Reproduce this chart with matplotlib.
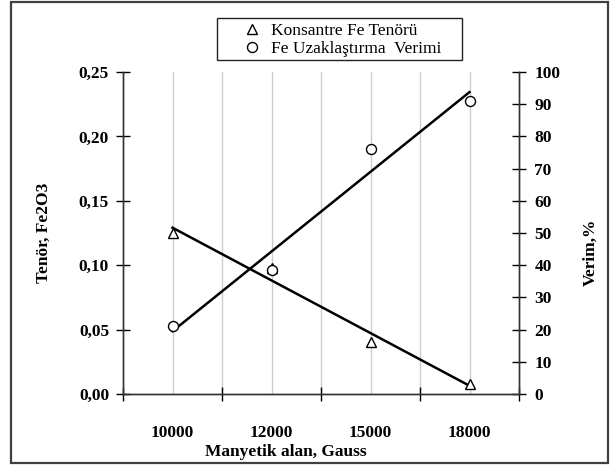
import numpy as np
import matplotlib.pyplot as plt
from matplotlib.patches import Rectangle

# data
fields = ['10000', '12000', '15000', '18000']
tenor = [0.125, 0.098, 0.040, 0.008]      # Konsantre Fe Tenörü (left axis)
verim = [21.0, 38.5, 76.0, 91.0]          # Fe Uzaklaştırma Verimi, % (right axis)
left_ticks = [0.0, 0.05, 0.10, 0.15, 0.20, 0.25]
right_ticks = list(range(0, 101, 10))

plt.rcParams['font.family'] = ['Liberation Serif', 'DejaVu Serif']
FS = 12.5

fig = plt.figure(figsize=(6.1, 4.65), dpi=100)
ax = fig.add_axes([123 / 610, 1 - 394 / 465, 396 / 610, 322 / 465])
ax2 = ax.twinx()

x = np.arange(len(fields))

# vertical gridlines every half category
for gx in np.arange(0, len(fields) - 0.99, 0.5):
    ax.axvline(gx, color='#cccccc', lw=1.0, zorder=0)

# markers
ax.plot(x, tenor, ls='none', marker='^', ms=7, mfc='white', mec='black',
        mew=1.0, zorder=4, label='Konsantre Fe Tenörü')
ax2.plot(x, verim, ls='none', marker='o', ms=7.2, mfc='white', mec='black',
         mew=1.0, zorder=4, label='Fe Uzaklaştırma  Verimi')

# linear trend lines
p1 = np.polyfit(x, tenor, 1)
ax.plot(x[[0, -1]], np.polyval(p1, x[[0, -1]]), color='black', lw=1.8, zorder=3)
p2 = np.polyfit(x, verim, 1)
ax2.plot(x[[0, -1]], np.polyval(p2, x[[0, -1]]), color='black', lw=1.8, zorder=3)

ax.set_xlim(-0.5, len(fields) - 0.5)
ax.set_ylim(0, 0.25)
ax2.set_ylim(0, 100)

# category boundaries as major ticks, labels on minor ticks
ax.set_xticks(np.arange(-0.5, len(fields), 1))
ax.set_xticklabels([])
ax.set_xticks(x, minor=True)
ax.set_xticklabels(fields, minor=True, fontsize=FS, fontweight='bold')
ax.tick_params(axis='x', which='major', direction='inout', length=10, width=1)
ax.tick_params(axis='x', which='minor', length=0, pad=22)

ax.set_yticks(left_ticks)
ax.set_yticklabels([('%.2f' % v).replace('.', ',') for v in left_ticks],
                   fontsize=FS, fontweight='bold')
ax.tick_params(axis='y', direction='inout', length=10, width=1, pad=5)

ax2.set_yticks(right_ticks)
ax2.set_yticklabels([str(v) for v in right_ticks], fontsize=FS, fontweight='bold')
ax2.tick_params(axis='y', direction='inout', length=10, width=1, pad=6)

for a in (ax, ax2):
    a.spines['top'].set_visible(False)
    for s in ('left', 'right', 'bottom'):
        a.spines[s].set_color('#333333')
        a.spines[s].set_linewidth(1.0)

ax.set_xlabel('Manyetik alan, Gauss', fontsize=FS, fontweight='bold')
ax.xaxis.set_label_coords(0.41, -0.155)
ax.set_ylabel('Tenör, Fe2O3', fontsize=FS, fontweight='bold')
ax.yaxis.set_label_coords(-0.18, 0.5)
ax2.set_ylabel('Verim,%', fontsize=FS, fontweight='bold')
ax2.yaxis.set_label_coords(1.16, 0.44)

h1, l1 = ax.get_legend_handles_labels()
h2, l2 = ax2.get_legend_handles_labels()
leg = fig.legend(h1 + h2, l1 + l2, loc='upper left',
                 bbox_to_anchor=(242 / 610, 1 - 23 / 465), fontsize=12.5,
                 frameon=False, borderpad=0, labelspacing=0.1,
                 handlelength=1.2, handletextpad=0.45, borderaxespad=0)

# legend box and outer frame
fig.patches.append(Rectangle((217 / 610, 1 - 60 / 465), 245 / 610, 42 / 465,
                             transform=fig.transFigure, fill=False,
                             edgecolor='#222222', lw=1.0))
fig.patches.append(Rectangle((11 / 610, 2.5 / 465), 597 / 610, 460.5 / 465,
                             transform=fig.transFigure, fill=False,
                             edgecolor='#404040', lw=1.6))

fig.savefig('out.png', dpi=100)
